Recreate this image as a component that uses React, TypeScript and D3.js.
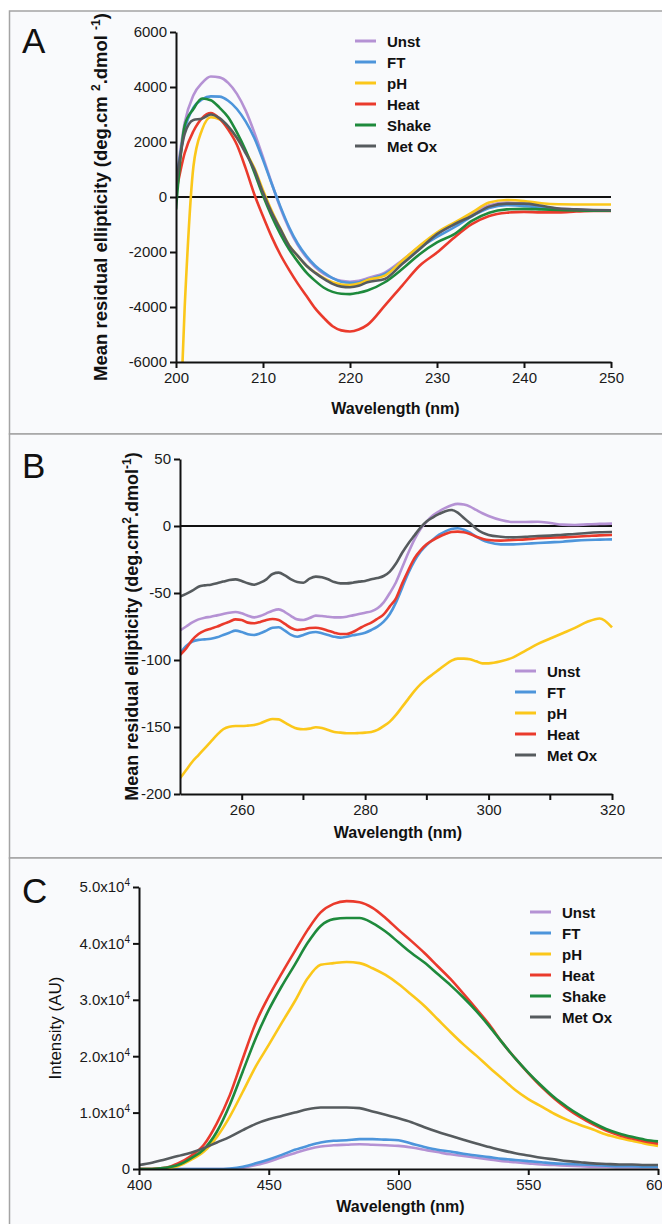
import React, { useEffect, useRef } from "react";
import * as d3 from "d3";

const seriesNames = ["Unst", "FT", "pH", "Heat", "Shake", "Met Ox"];
const seriesColors = ["#b592d4", "#4d95db", "#fbc71a", "#ea3a2c", "#1e8a3c", "#565b5e"];

// Panel A: far-UV CD (200-250 nm)
const wavelengthA = [
  200, 201, 202, 203, 204, 205, 206, 207, 208, 209, 210, 211, 212, 213, 214, 215, 216, 217, 218, 219,
  220, 221, 222, 224, 226, 228, 230, 232, 234, 236, 238, 240, 242, 244, 246, 248, 250,
];
const unstA = [
  500, 2700, 3700, 4150, 4380, 4350, 4150, 3750, 3150, 2350, 1450, 500, -400, -1150, -1750, -2200, -2550,
  -2800, -2950, -3050, -3080, -3050, -2950, -2750, -2300, -1800, -1350, -1000, -600, -300, -200, -250, -350,
  -420, -450, -480, -480,
];
const ftA = [
  500, 2450, 3250, 3550, 3660, 3650, 3500, 3200, 2750, 2150, 1350, 480, -350, -1100, -1700, -2150, -2500,
  -2750, -2950, -3080, -3120, -3100, -3000, -2800, -2350, -1850, -1450, -1100, -700, -400, -300, -330, -400,
  -480, -500, -500, -500,
];
const phA = [
  -12000, -4000, 1100, 2450, 2900, 2820, 2550, 2150, 1650, 1050, 250, -500, -1150, -1750, -2150, -2500,
  -2750, -2950, -3100, -3180, -3200, -3150, -3020, -2860, -2320, -1770, -1290, -930, -570, -200, -110, -145,
  -230, -265, -270, -270, -270,
];
const heatA = [
  150, 1600, 2390, 2870, 3050, 2850, 2450, 1900, 1050, 100, -700, -1450, -2100, -2650, -3150, -3600, -4050,
  -4400, -4700, -4850, -4890, -4820, -4650, -3950, -3220, -2500, -2020, -1470, -990, -690, -570, -540, -560,
  -560, -530, -510, -510,
];
const shakeA = [
  -450, 2600, 3200, 3580, 3520, 3250, 2900, 2350, 1700, 900, 50, -700, -1350, -1900, -2350, -2750, -3050,
  -3300, -3450, -3520, -3530, -3480, -3400, -3100, -2620, -2080, -1650, -1350, -870, -570, -450, -430, -450,
  -470, -490, -500, -500,
];
const metOxA = [
  400, 2300, 2800, 2850, 3000, 2870, 2570, 2150, 1600, 1000, 160, -570, -1170, -1770, -2140, -2500, -2760,
  -2980, -3160, -3260, -3280, -3230, -3100, -2980, -2440, -1900, -1350, -990, -690, -350, -240, -240, -320,
  -420, -450, -470, -480,
];

// Panel B: near-UV CD (250-320 nm)
const wavelengthB = [
  250, 251, 252, 253, 254, 255, 256, 257, 258, 259, 260, 261, 262, 263, 264, 265, 266, 267, 268, 269, 270,
  271, 272, 273, 274, 275, 276, 277, 278, 279, 280, 281, 282, 283, 284, 285, 286, 287, 288, 289, 290, 291,
  292, 293, 294, 295, 296, 297, 298, 299, 300, 302, 304, 306, 308, 310, 312, 314, 316, 318, 320,
];
const unstB = [
  -78, -75, -72, -69.7, -68.4, -67.7, -66.7, -65.7, -64.7, -64.2, -65.2, -66.9, -68.2, -67.2, -65.2, -63.2,
  -62.2, -64.2, -67.2, -69.7, -70.1, -68.7, -66.9, -67.2, -67.7, -68.2, -68.2, -67.7, -66.7, -65.7, -64.7,
  -63.7, -61.4, -57, -50, -42, -31, -20, -10, -2, 3.5, 8, 11, 13.5, 15.5, 16.5, 16, 14.5, 12, 9.5, 7.5, 4.5,
  3, 3, 3.2, 2.2, 1, 0.8, 1.2, 1.6, 1.8,
];
const ftB = [
  -95, -89.6, -86.3, -85, -84.6, -84.1, -83.1, -81.3, -79.6, -78.1, -79.1, -80.8, -81.3, -80.1, -78.1, -75.9,
  -75.6, -78.1, -81.3, -82.6, -81.3, -79.6, -79.1, -80.1, -81.3, -82.6, -83.3, -82.6, -81.6, -80.8, -79.6,
  -77.6, -75.1, -71.4, -65.7, -57, -46, -35, -26, -19, -14, -10, -6.5, -4, -2.3, -1.7, -2.8, -5, -8, -10.5,
  -12.2, -13.7, -13.7, -13.2, -12.7, -12.2, -11.7, -10.9, -10.4, -10.2, -10,
];
const phB = [
  -188.3, -182.1, -175.9, -170.9, -165.9, -160.9, -155.9, -151.7, -149.8, -149.3, -149.3, -149, -148.5,
  -147.3, -145.3, -144, -144.3, -146.8, -149.3, -151.2, -151.7, -151.2, -150.2, -150.7, -152.2, -153.7,
  -154.2, -154.7, -154.7, -154.5, -154.2, -153.7, -152.2, -149.3, -146, -141, -135, -129, -123, -118, -114,
  -110.5, -107, -103.5, -100.5, -99, -99, -99.5, -101, -102.5, -102.5, -101, -98, -93, -88, -84, -80, -76,
  -71.5, -69, -75.6,
];
const heatB = [
  -96.3, -91.3, -85, -80.6, -78.1, -76.6, -75.1, -73.1, -71.4, -69.7, -70.1, -72.1, -72.6, -71.6, -70.1,
  -69.4, -70.1, -73.1, -76.1, -77.6, -77.1, -76.1, -75.9, -76.6, -78.1, -79.6, -80.6, -80.6, -79.1, -76.6,
  -74.1, -72.1, -69.2, -66, -60, -54, -43, -33, -24, -18, -13.5, -10.5, -8, -6, -4.5, -4.2, -4.6, -6, -8,
  -9.5, -10.5, -10.9, -10.4, -10, -9.2, -8.7, -8.5, -8, -7.5, -7, -6.7,
];
const metOxB = [
  -52.7, -50.7, -48.3, -45.3, -44.3, -43.8, -42.8, -41.5, -40.3, -39.8, -41, -42.8, -43.8, -42.3, -39.8,
  -35.8, -34.8, -36.8, -39.8, -41.8, -42.3, -39.3, -37.8, -38.3, -39.8, -41.8, -42.8, -42.8, -42.3, -41.5,
  -41, -39.8, -38.8, -37.3, -34, -28, -20, -13, -7, -1, 3.5, 6.5, 9, 11, 11.9, 10, 6, 2, -2, -5, -6.7, -8,
  -8.5, -8, -7.5, -7.2, -6.5, -6, -5.2, -4.7, -4.5,
];

// Panel C: fluorescence emission (400-600 nm), intensity in units of 1e4
const wavelengthC = [
  400, 405, 410, 415, 420, 425, 430, 435, 440, 445, 450, 455, 460, 465, 470, 475, 480, 485, 490, 495, 500,
  505, 510, 515, 520, 525, 530, 535, 540, 545, 550, 555, 560, 565, 570, 575, 580, 585, 590, 595, 600,
];
const unstC = [
  0, 0, 0, 0, 0, 0, 0, 0, 0.02, 0.07, 0.13, 0.21, 0.28, 0.35, 0.4, 0.42, 0.43, 0.44, 0.43, 0.42, 0.41, 0.38,
  0.34, 0.3, 0.26, 0.23, 0.2, 0.17, 0.14, 0.12, 0.1, 0.08, 0.07, 0.06, 0.05, 0.04, 0.04, 0.03, 0.03, 0.03,
  0.03,
];
const ftC = [
  0, 0, 0, 0, 0, 0, 0, 0.01, 0.04, 0.1, 0.17, 0.25, 0.34, 0.41, 0.47, 0.5, 0.51, 0.53, 0.53, 0.52, 0.51, 0.45,
  0.39, 0.34, 0.31, 0.27, 0.24, 0.21, 0.18, 0.16, 0.14, 0.12, 0.1, 0.09, 0.08, 0.07, 0.06, 0.05, 0.05, 0.04,
  0.04,
];
const phC = [
  0, 0, 0.01, 0.05, 0.16, 0.31, 0.57, 0.93, 1.37, 1.82, 2.2, 2.59, 2.97, 3.38, 3.62, 3.65, 3.67, 3.65, 3.56,
  3.44, 3.28, 3.09, 2.89, 2.66, 2.43, 2.21, 2.01, 1.8, 1.6, 1.4, 1.24, 1.11, 0.98, 0.87, 0.78, 0.7, 0.61,
  0.55, 0.5, 0.45, 0.41,
];
const heatC = [
  0, 0, 0.02, 0.1, 0.23, 0.43, 0.81, 1.31, 1.96, 2.59, 3.06, 3.47, 3.86, 4.24, 4.55, 4.7, 4.75, 4.73, 4.63,
  4.45, 4.24, 4.04, 3.83, 3.6, 3.37, 3.11, 2.84, 2.56, 2.24, 1.96, 1.7, 1.46, 1.25, 1.07, 0.92, 0.79, 0.68,
  0.6, 0.54, 0.49, 0.45,
];
const shakeC = [
  0, 0, 0.02, 0.07, 0.19, 0.35, 0.66, 1.14, 1.73, 2.32, 2.82, 3.24, 3.62, 4.01, 4.31, 4.43, 4.45, 4.45, 4.36,
  4.21, 4.02, 3.83, 3.66, 3.46, 3.26, 3.04, 2.8, 2.53, 2.24, 1.96, 1.71, 1.48, 1.27, 1.1, 0.95, 0.82, 0.71,
  0.63, 0.57, 0.52, 0.49,
];
const metOxC = [
  0.07, 0.11, 0.17, 0.23, 0.29, 0.37, 0.47, 0.57, 0.69, 0.8, 0.88, 0.94, 1.0, 1.06, 1.09, 1.09, 1.09, 1.08,
  1.02, 0.96, 0.9, 0.83, 0.74, 0.66, 0.59, 0.52, 0.45, 0.39, 0.33, 0.28, 0.24, 0.2, 0.17, 0.14, 0.12, 0.1,
  0.09, 0.08, 0.08, 0.07, 0.07,
];

const ticksA_x = [200, 210, 220, 230, 240, 250];
const ticksA_y = [-6000, -4000, -2000, 0, 2000, 4000, 6000];
const ticksB_x = [260, 280, 300, 320];
const minorB_x = [270, 290, 310];
const ticksB_y = [-200, -150, -100, -50, 0, 50];
const ticksC_x = [400, 450, 500, 550, 600];
const ticksC_y = [0, 1, 2, 3, 4, 5];

const FONT = "'Liberation Sans', Arial, Helvetica, sans-serif";

type Sup = [string, boolean][];

const addRich = (sel: any, parts: Sup, supSize: number, shift: number) => {
  parts.forEach(([t, sup], i) => {
    const prevSup = i > 0 && parts[i - 1][1];
    const ts = sel.append("tspan").text(t);
    if (sup) ts.attr("dy", -shift).attr("font-size", supSize);
    else if (prevSup) ts.attr("dy", shift);
  });
};

const drawPanel = (svg: any, cfg: any) => {
  const {
    id, top, height, letter, letterY, xDomain, xRange, yDomain, yRange, xTicks, minorTicks, yTicks,
    yTickText, tickSize, yLabel, yLabelX, yLabelBold, yLabelSize, xLabelY, wl, data, names, zero, legend,
  } = cfg;

  svg.append("rect").attr("x", 9.5).attr("y", top).attr("width", 700).attr("height", height)
    .attr("fill", "#f9fafc").attr("stroke", "#a4a4a4").attr("stroke-width", 1.5);

  svg.append("text").attr("x", 22).attr("y", letterY).attr("font-family", FONT)
    .attr("font-size", 35).attr("fill", "#111").text(letter);

  const x = d3.scaleLinear().domain(xDomain).range(xRange);
  const y = d3.scaleLinear().domain(yDomain).range(yRange);

  svg.append("clipPath").attr("id", `clip-${id}`).append("rect")
    .attr("x", xRange[0]).attr("y", yRange[1] - 2)
    .attr("width", xRange[1] - xRange[0] + 2).attr("height", yRange[0] - yRange[1] + 2);

  if (zero) {
    svg.append("line").attr("x1", x(xDomain[0])).attr("x2", x(xDomain[1]))
      .attr("y1", y(0)).attr("y2", y(0)).attr("stroke", "#111").attr("stroke-width", 2);
  }

  const line = d3.line<[number, number]>()
    .x((d) => x(d[0])).y((d) => y(d[1])).curve(d3.curveMonotoneX);

  const g = svg.append("g").attr("clip-path", `url(#clip-${id})`);
  data.forEach((vals: number[], i: number) => {
    const name = names[i];
    const c = seriesColors[seriesNames.indexOf(name)];
    g.append("path").datum(wl.map((w: number, j: number) => [w, vals[j]]))
      .attr("d", line).attr("fill", "none").attr("stroke", c).attr("stroke-width", 2.6)
      .attr("stroke-linejoin", "round");
  });

  // axes
  const xAxis = svg.append("g").attr("transform", `translate(0,${yRange[0]})`)
    .call(d3.axisBottom(x).tickValues(xTicks).tickSize(6).tickSizeOuter(0).tickPadding(4));
  if (minorTicks) {
    minorTicks.forEach((t: number) => {
      xAxis.append("line").attr("x1", x(t)).attr("x2", x(t)).attr("y1", 0).attr("y2", 6)
        .attr("stroke", "#111").attr("stroke-width", 2);
    });
  }
  const yAxis = svg.append("g").attr("transform", `translate(${xRange[0]},0)`)
    .call(d3.axisLeft(y).tickValues(yTicks).tickSize(6).tickSizeOuter(0).tickPadding(3)
      .tickFormat(yTickText ? () => "" : (d: any) => `${d}`));
  [xAxis, yAxis].forEach((a) => {
    a.select(".domain").attr("stroke", "#111").attr("stroke-width", 2);
    a.selectAll(".tick line").attr("stroke", "#111").attr("stroke-width", 2);
    a.selectAll("text").attr("font-family", FONT).attr("font-size", tickSize).attr("fill", "#1a1a1a");
  });
  if (yTickText) {
    yAxis.selectAll(".tick text").each(function (this: any, d: any) {
      const t = d3.select(this);
      t.text(null);
      addRich(t, yTickText(d), 10, 6);
    });
  }

  // axis titles
  svg.append("text").attr("x", (xRange[0] + xRange[1]) / 2 + 2).attr("y", xLabelY)
    .attr("text-anchor", "middle").attr("font-family", FONT).attr("font-size", 16)
    .attr("font-weight", "bold").attr("fill", "#111").text("Wavelength (nm)");

  const yl = svg.append("text")
    .attr("transform", `translate(${yLabelX},${(yRange[0] + yRange[1]) / 2}) rotate(-90)`)
    .attr("text-anchor", "middle").attr("font-family", FONT).attr("font-size", yLabelSize)
    .attr("font-weight", yLabelBold ? "bold" : "normal").attr("fill", "#111");
  addRich(yl, yLabel, 12, 7);

  // legend
  names.forEach((name: string, i: number) => {
    const c = seriesColors[seriesNames.indexOf(name)];
    const ly = legend.y + i * legend.step;
    svg.append("line").attr("x1", legend.x).attr("x2", legend.x + 21).attr("y1", ly).attr("y2", ly)
      .attr("stroke", c).attr("stroke-width", 3);
    svg.append("text").attr("x", legend.x + 32).attr("y", ly + 5.5).attr("font-family", FONT)
      .attr("font-size", 15).attr("font-weight", "bold").attr("fill", "#111").text(name);
  });
};

const App = () => {
  const ref = useRef<SVGSVGElement | null>(null);
  useEffect(() => {
    if (!ref.current) return;
    const svg = d3.select(ref.current);
    svg.selectAll("*").remove();

    drawPanel(svg, {
      id: "a", top: 11, height: 423, letter: "A", letterY: 53,
      xDomain: [200, 250], xRange: [176, 611], yDomain: [-6000, 6000], yRange: [362, 32],
      xTicks: ticksA_x, yTicks: ticksA_y, tickSize: 15,
      yLabel: [["Mean residual ellipticity (deg.cm ", false], ["2", true], [".dmol ", false], ["-1", true], [")", false]],
      yLabelX: 107, yLabelBold: true, yLabelSize: 18.5, xLabelY: 414,
      wl: wavelengthA, data: [unstA, ftA, phA, heatA, shakeA, metOxA], names: seriesNames, zero: true,
      legend: { x: 355, y: 41, step: 21 },
    });

    drawPanel(svg, {
      id: "b", top: 434, height: 424, letter: "B", letterY: 478,
      xDomain: [250, 320], xRange: [180, 612], yDomain: [-200, 50], yRange: [794, 459],
      xTicks: ticksB_x, minorTicks: minorB_x, yTicks: ticksB_y, tickSize: 15,
      yLabel: [["Mean residual ellipticity (deg.cm", false], ["2", true], [".dmol", false], ["-1", true], [")", false]],
      yLabelX: 138, yLabelBold: true, yLabelSize: 18, xLabelY: 838,
      wl: wavelengthB, data: [unstB, ftB, phB, heatB, metOxB],
      names: ["Unst", "FT", "pH", "Heat", "Met Ox"], zero: true,
      legend: { x: 515, y: 671, step: 21 },
    });

    drawPanel(svg, {
      id: "c", top: 858, height: 400, letter: "C", letterY: 903,
      xDomain: [400, 600], xRange: [139, 658], yDomain: [0, 5], yRange: [1169, 887],
      xTicks: ticksC_x, yTicks: ticksC_y, tickSize: 15,
      yTickText: (d: number) => (d === 0 ? [["0", false]] : [[`${d.toFixed(1)}x10`, false], ["4", true]]),
      yLabel: [["Intensity (AU)", false]],
      yLabelX: 61, yLabelBold: false, yLabelSize: 17, xLabelY: 1212,
      wl: wavelengthC, data: [unstC, ftC, phC, heatC, shakeC, metOxC], names: seriesNames, zero: false,
      legend: { x: 530, y: 912, step: 21 },
    });
  }, []);

  return (
    <div style={{ margin: -8, background: "#fff" }}>
      <svg ref={ref} width={670} height={1232} style={{ display: "block" }} />
    </div>
  );
};

export default App;
